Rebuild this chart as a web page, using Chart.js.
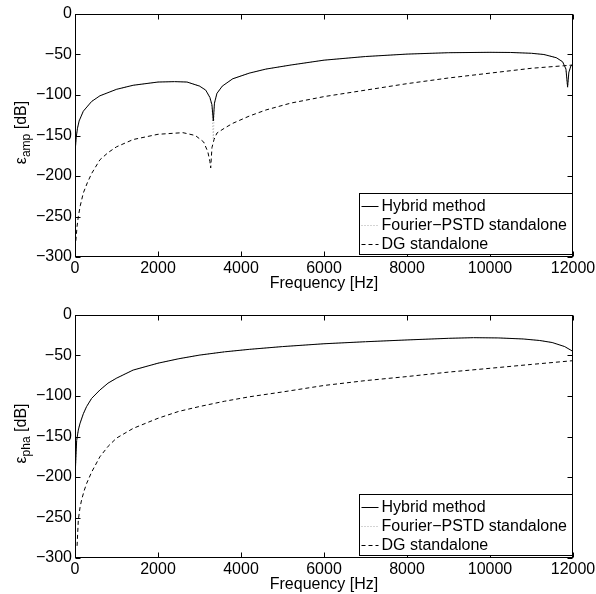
<!DOCTYPE html>
<html>
<head>
<meta charset="utf-8">
<script src="https://cdn.jsdelivr.net/npm/chart.js@4.4.0/dist/chart.umd.min.js"></script>
<style>
html, body { margin: 0; padding: 0; background: #fff; }
.panel { position: relative; width: 596px; height: 297px; }
</style>
</head>
<body>
<div class="panel"><canvas id="amp-chart"></canvas></div>
<div class="panel"><canvas id="pha-chart"></canvas></div>
<script>
// ─── Data ────────────────────────────────────────────────────────
const legendLabels = ["Hybrid method", "Fourier\u2212PSTD standalone", "DG standalone"];
const xTicksStep = 2000;
const yTicksStep = 50;

// top panel: amplitude error
const ampHybridFreq = [10, 30, 60, 100, 200, 400, 600, 1000, 1400, 2000, 2400, 2700, 3000, 3150, 3250, 3300, 3333, 3360, 3420, 3550, 3800, 4200, 4600, 5200, 6000, 7000, 8000, 9000, 10000, 10500, 11000, 11300, 11600, 11750, 11830, 11870, 11900, 11950, 12000];
const ampHybridDb   = [-165, -152, -141, -132, -120, -108, -101, -93, -88, -84, -83.5, -84, -89, -94, -103, -112, -132, -110, -98, -89, -80, -73, -68, -63, -57, -52.5, -49.5, -47.8, -47.3, -47.5, -48.5, -50, -54, -59, -68, -90, -72, -64, -62];
const ampFourierDb  = [-165, -152, -141, -132, -120, -108, -101, -93, -88, -84, -83.5, -84, -89, -94, -103, -115, -155, -112, -98, -89, -80, -73, -68, -63, -57, -52.5, -49.5, -47.8, -47.3, -47.5, -48.5, -50, -54, -59, -68, -92, -72, -64, -62];
const ampDgFreq = [20, 50, 80, 130, 200, 300, 400, 600, 800, 1000, 1400, 2000, 2600, 2900, 3100, 3200, 3250, 3270, 3300, 3350, 3420, 3600, 3800, 4200, 4600, 5200, 6000, 7000, 8000, 9000, 10000, 11000, 12000];
const ampDgDb   = [-280, -262, -250, -236, -221, -208, -197, -180, -171, -164, -155, -148.5, -146.5, -150, -158, -170, -182, -190, -165, -155, -147, -141, -135, -126, -118.5, -110, -102, -94, -86, -79, -73, -67, -63];

// bottom panel: phase error
const phaHybridFreq = [10, 40, 80, 120, 200, 280, 400, 600, 800, 1000, 1400, 2000, 2500, 3000, 3600, 4200, 5000, 6000, 7000, 8000, 9000, 9600, 10200, 10800, 11200, 11500, 11800, 12000];
const phaHybridDb   = [-190, -155, -142, -134, -122, -113, -103, -92.6, -84, -78, -68, -59.5, -54, -49.5, -45.5, -42.4, -39, -35.5, -33, -30.8, -28.8, -28, -28.3, -29.6, -31.5, -34, -39, -45];
const phaFourierDb  = [-190, -155, -142, -134, -122, -113, -103, -92.6, -84, -78, -68, -59.5, -54, -49.5, -45.5, -42.4, -39, -35.5, -33, -30.8, -28.8, -28, -28.3, -29.6, -31.5, -34, -39, -45];
const phaDgFreq = [50, 80, 120, 160, 220, 280, 400, 600, 800, 1000, 1400, 2000, 2500, 3000, 3600, 4200, 5000, 6000, 7000, 8000, 9000, 10000, 11000, 12000];
const phaDgDb   = [-285, -253, -238, -228, -217, -208, -194, -175, -162, -152, -140, -127.5, -119, -113, -106.5, -101, -95, -87, -81, -76, -70.5, -65.8, -61, -56.4];

const FONT = "'Liberation Sans', Arial, Helvetica, sans-serif";
const FS = 16;

function toXY(xs, ys) {
    return xs.map((x, i) => ({ x: x, y: ys[i] }));
}

function fmtTick(v) {
    return v < 0 ? "\u2212" + Math.abs(v) : String(v);
}

// ─── MATLAB-style frame, inward ticks, legend, y label ───────────
const matlabFrame = {
    id: "matlabFrame",
    afterDraw(chart, args, opts) {
        const ctx = chart.ctx;
        const { left, right, top, bottom } = chart.chartArea;
        const L = Math.round(left) + 0.5, R = Math.round(right) - 0.5;
        const T = Math.round(top) + 0.5, B = Math.round(bottom) - 0.5;
        ctx.save();
        ctx.strokeStyle = "#000";
        ctx.lineWidth = 1;
        ctx.setLineDash([]);
        ctx.strokeRect(L, T, R - L, B - T);

        // inward ticks
        ctx.beginPath();
        chart.scales.x.ticks.forEach(t => {
            const px = Math.round(chart.scales.x.getPixelForValue(t.value)) + 0.5;
            ctx.moveTo(px, B); ctx.lineTo(px, B - 5);
            ctx.moveTo(px, T); ctx.lineTo(px, T + 5);
        });
        chart.scales.y.ticks.forEach(t => {
            const py = Math.round(chart.scales.y.getPixelForValue(t.value)) + 0.5;
            ctx.moveTo(L, py); ctx.lineTo(L + 5, py);
            ctx.moveTo(R, py); ctx.lineTo(R - 5, py);
        });
        ctx.stroke();

        // legend box
        const lw = 213, lh = 61;
        const lx = Math.round(right) - lw - 0.5;
        const ly = Math.round(bottom) - 3 - lh + 0.5;
        ctx.fillStyle = "#fff";
        ctx.fillRect(lx, ly, lw, lh);
        ctx.strokeRect(lx, ly, lw, lh);
        ctx.font = FS + "px " + FONT;
        ctx.textBaseline = "middle";
        ctx.textAlign = "left";
        chart.data.datasets.forEach((ds, i) => {
            const y = Math.round(ly + 12 + i * 19) + 0.5;
            ctx.strokeStyle = ds.borderColor;
            ctx.setLineDash(ds.borderDash || []);
            ctx.beginPath();
            ctx.moveTo(lx + 2, y); ctx.lineTo(lx + 19, y);
            ctx.stroke();
            ctx.fillStyle = "#000";
            ctx.fillText(ds.label, lx + 22, y);
        });
        ctx.setLineDash([]);

        // y axis label with subscript
        const main = "\u03b5", sub = opts.sub, tail = " [dB]";
        ctx.font = FS + "px " + FONT;
        const w1 = ctx.measureText(main).width;
        const w3 = ctx.measureText(tail).width;
        ctx.font = "12px " + FONT;
        const w2 = ctx.measureText(sub).width;
        const total = w1 + w2 + w3;
        ctx.translate(26, (top + bottom) / 2 - 3);
        ctx.rotate(-Math.PI / 2);
        ctx.fillStyle = "#000";
        ctx.textBaseline = "alphabetic";
        let u = -total / 2;
        ctx.font = FS + "px " + FONT;
        ctx.fillText(main, u, 0);
        u += w1;
        ctx.font = "12px " + FONT;
        ctx.fillText(sub, u, 4);
        u += w2;
        ctx.font = FS + "px " + FONT;
        ctx.fillText(tail, u, 0);
        ctx.restore();
    }
};

function makeChart(canvasId, series, cfg) {
    const ctx = document.getElementById(canvasId).getContext("2d");
    return new Chart(ctx, {
        type: "line",
        data: {
            datasets: [
                {
                    label: legendLabels[0],
                    data: series[0],
                    borderColor: "#000",
                    borderWidth: 1,
                    pointRadius: 0,
                    tension: 0,
                },
                {
                    label: legendLabels[1],
                    data: series[1],
                    borderColor: "#a8a8a8",
                    borderWidth: 1,
                    borderDash: [1, 2],
                    pointRadius: 0,
                    tension: 0,
                },
                {
                    label: legendLabels[2],
                    data: series[2],
                    borderColor: "#000",
                    borderWidth: 1,
                    borderDash: [4, 3],
                    pointRadius: 0,
                    tension: 0,
                }
            ]
        },
        plugins: [matlabFrame],
        options: {
            responsive: true,
            maintainAspectRatio: false,
            animation: false,
            layout: { padding: { left: 0, right: 23, top: cfg.padTop, bottom: 0 } },
            plugins: {
                legend: { display: false },
                tooltip: { enabled: false },
                matlabFrame: { sub: cfg.sub }
            },
            scales: {
                x: {
                    type: "linear",
                    min: 0,
                    max: 12000,
                    afterFit: s => {
                        s.height = cfg.axisHeight;
                        s.paddingLeft = 0;
                        s.paddingRight = 0;
                    },
                    ticks: {
                        stepSize: xTicksStep,
                        color: "#000",
                        padding: 2,
                        maxRotation: 0,
                        callback: v => String(v),
                        font: { family: FONT, size: FS }
                    },
                    grid: { display: false, drawTicks: false },
                    border: { display: false },
                    title: {
                        display: true,
                        text: "Frequency [Hz]",
                        color: "#000",
                        padding: { top: 0, bottom: cfg.titlePad },
                        font: { family: FONT, size: FS }
                    }
                },
                y: {
                    min: -300,
                    max: 0,
                    afterFit: s => {
                        s.width = 75;
                        s.paddingTop = 0;
                        s.paddingBottom = 0;
                    },
                    ticks: {
                        stepSize: yTicksStep,
                        color: "#000",
                        padding: 3,
                        callback: fmtTick,
                        font: { family: FONT, size: FS }
                    },
                    grid: { display: false, drawTicks: false },
                    border: { display: false }
                }
            }
        }
    });
}

makeChart("amp-chart", [
    toXY(ampHybridFreq, ampHybridDb),
    toXY(ampHybridFreq, ampFourierDb),
    toXY(ampDgFreq, ampDgDb)
], { padTop: 14, axisHeight: 40, titlePad: 4, sub: "amp" });

makeChart("pha-chart", [
    toXY(phaHybridFreq, phaHybridDb),
    toXY(phaHybridFreq, phaFourierDb),
    toXY(phaDgFreq, phaDgDb)
], { padTop: 18, axisHeight: 36, titlePad: 0, sub: "pha" });
</script>
</body>
</html>
